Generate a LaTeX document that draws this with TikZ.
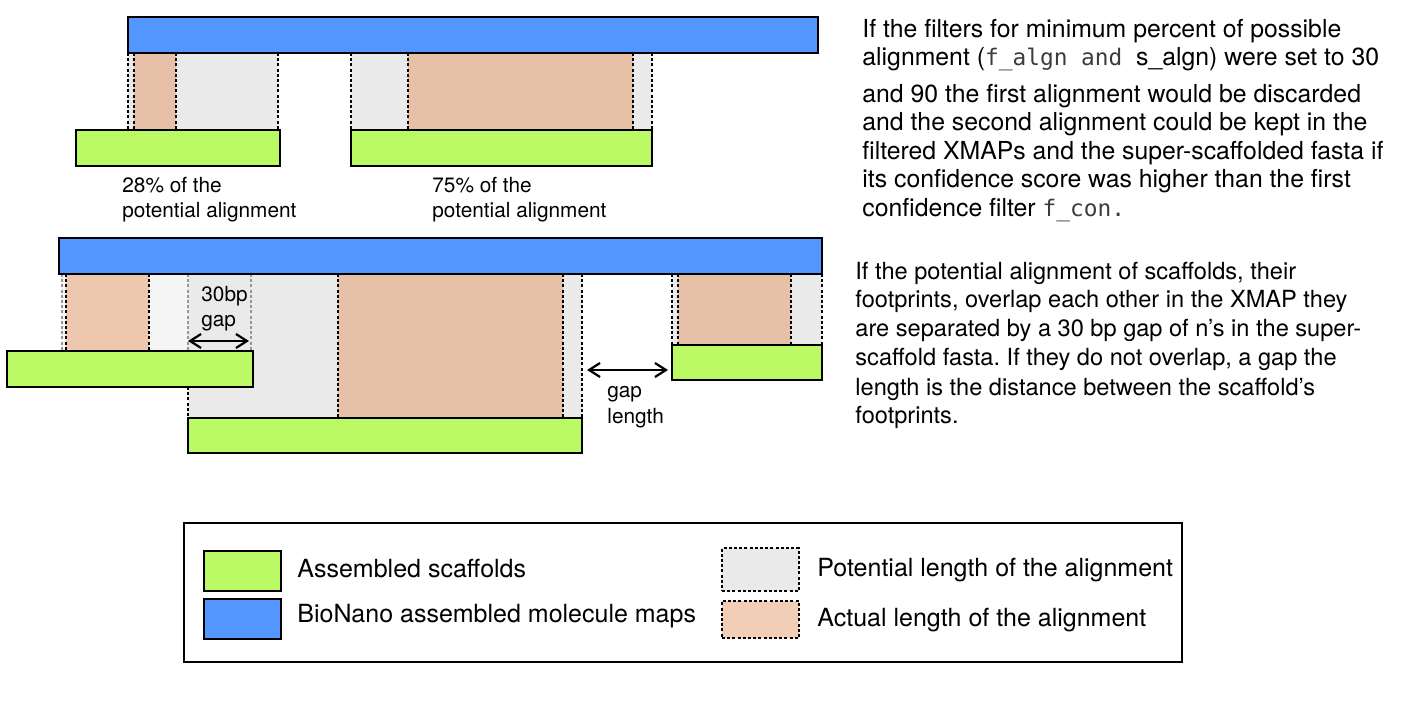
\documentclass[tikz,border=0pt]{standalone}
\usepackage{fontspec}
\setmainfont{TeX Gyre Heros}
\newfontfamily\codefont[Scale=0.92]{DejaVu Sans Mono}
\usetikzlibrary{fit,arrows.meta}
\frenchspacing
\definecolor{mapblue}{RGB}{83,150,255}
\definecolor{scafgreen}{RGB}{187,249,101}
\definecolor{potgray}{RGB}{234,234,234}
\definecolor{potlight}{RGB}{245,245,245}
\definecolor{actorange}{RGB}{230,193,167}
\definecolor{actlight}{RGB}{237,200,174}
\definecolor{legorange}{RGB}{242,206,182}
\definecolor{codegray}{RGB}{60,60,60}
\definecolor{dashgray}{RGB}{150,150,150}
\tikzset{
  bar/.style={draw=black, line width=1.2pt, inner sep=0pt, outer sep=0pt},
  mapbar/.style={bar, fill=mapblue},
  scafbar/.style={bar, fill=scafgreen},
  region/.style={draw=none, inner sep=0pt, outer sep=0pt},
  potreg/.style={region, fill=potgray},
  potlightreg/.style={region, fill=potlight},
  actreg/.style={region, fill=actorange},
  actlightreg/.style={region, fill=actlight},
  dashline/.style={line width=1pt, dash pattern=on 1.5pt off 1.1pt},
  greydash/.style={dashline, draw=dashgray},
  dimarrow/.style={line width=1.1pt, {Straight Barb[length=5.5pt,width=7pt]}-{Straight Barb[length=5.5pt,width=7pt]}},
  paraA/.style={anchor=base west, inner sep=0pt, font=\fontsize{12.4pt}{14pt}\selectfont},
  paraB/.style={anchor=base west, inner sep=0pt, font=\fontsize{11.8pt}{14pt}\selectfont},
  lab/.style={anchor=base west, inner sep=0pt, font=\fontsize{10.4pt}{12.5pt}\selectfont},
  legtext/.style={anchor=base west, inner sep=0pt, font=\fontsize{12.5pt}{15pt}\selectfont},
  swatch/.style={draw=black, line width=0.9pt, inner sep=0pt, outer sep=0pt},
  dswatch/.style={draw=black, line width=0.9pt, dash pattern=on 1.5pt off 1.1pt, inner sep=0pt, outer sep=0pt},
}
\begin{document}
\begin{tikzpicture}[x=0.5pt, y=-0.5pt]
\useasboundingbox (0,0) rectangle (1411,726);

% ---------- top diagram ----------
\node[potreg, fit={(128,53)(278,130)}] (p1) {};
\node[actreg, fit={(134,53)(176,130)}] (a1) {};
\node[potreg, fit={(351,53)(652,130)}] (p2) {};
\node[actreg, fit={(408,53)(633,130)}] (a2) {};
\draw[dashline] (p1.north west) -- (p1.south west);
\draw[dashline] (p1.north east) -- (p1.south east);
\draw[dashline] (a1.north west) -- (a1.south west);
\draw[dashline] (a1.north east) -- (a1.south east);
\draw[dashline] (p2.north west) -- (p2.south west);
\draw[dashline] (p2.north east) -- (p2.south east);
\draw[dashline] (a2.north west) -- (a2.south west);
\draw[dashline] (a2.north east) -- (a2.south east);

\node[mapbar, fit={(128,17)(818,53)}] (m1) {};
\node[scafbar, fit={(76,130)(280,166)}] (s1) {};
\node[scafbar, fit={(351,130)(652,166)}] (s2) {};

\node[lab] (l1a) at (122,193) {28\% of the};
\node[lab] (l1b) at (122,218) {potential alignment};
\node[lab] (l2a) at (432,193) {75\% of the};
\node[lab] (l2b) at (432,218) {potential alignment};

% ---------- bottom diagram ----------
\node[potlightreg, fit={(62,274)(251,351)}] (pA) {};
\node[actlightreg, fit={(66,274)(149,351)}] (aA) {};
\node[potreg, fit={(188,274)(582,418)}] (pB) {};
\node[actreg, fit={(338,274)(563,418)}] (aB) {};
\node[potreg, fit={(672,274)(822,345)}] (pC) {};
\node[actreg, fit={(678,274)(791,345)}] (aC) {};

\draw[greydash] (pA.north west) -- (pA.south west);
\draw[dashline] (aA.north west) -- (aA.south west);
\draw[dashline] (aA.north east) -- (aA.south east);
\draw[greydash] (pA.north east) -- (pA.south east);
\draw[greydash] (pB.north west) -- (pB.north west |- pA.south);
\draw[dashline] (pB.north west |- 0,387) -- (pB.south west);
\draw[dashline] (aB.north west) -- (aB.south west);
\draw[dashline] (aB.north east) -- (aB.south east);
\draw[dashline] (pB.north east) -- (pB.south east);
\draw[dashline] (pC.north west) -- (pC.south west);
\draw[dashline] (aC.north west) -- (aC.south west);
\draw[dashline] (aC.north east) -- (aC.south east);
\draw[dashline] (pC.north east) -- (pC.south east);

\node[mapbar, fit={(59,238)(822,274)}] (m2) {};
\node[scafbar, fit={(7,351)(253,387)}] (sA) {};
\node[scafbar, fit={(188,418)(582,453)}] (sB) {};
\node[scafbar, fit={(672,345)(822,380)}] (sC) {};

\coordinate (g1L) at (188,341);
\coordinate (g1R) at (249,341);
\draw[dimarrow] (g1L) -- (g1R);
\node[lab] (g1a) at (201,302) {30bp};
\node[lab] (g1b) at (201,327) {gap};

\coordinate (g2L) at (587,370);
\coordinate (g2R) at (668,370);
\draw[dimarrow] (g2L) -- (g2R);
\node[lab] (g2a) at (607,398) {gap};
\node[lab] (g2b) at (607,423) {length};

% ---------- paragraph 1 ----------
\node[paraA] (t1) at (862,38) {If the filters for minimum percent of possible};
\node[paraA] (t2) at (862,66) {alignment ({\color{codegray}\codefont f\_algn and }s\_algn) were set to 30};
\node[paraA] (t3) at (862,103) {and 90 the first alignment would be discarded};
\node[paraA] (t4) at (862,131) {and the second alignment could be kept in the};
\node[paraA] (t5) at (862,160) {filtered XMAPs and the super-scaffolded fasta if};
\node[paraA] (t6) at (862,188) {its confidence score was higher than the first};
\node[paraA] (t7) at (862,217) {confidence filter {\color{codegray}\codefont f\_con.}};

% ---------- paragraph 2 ----------
\node[paraB] (u1) at (855,280) {If the potential alignment of scaffolds, their};
\node[paraB] (u2) at (855,308) {footprints, overlap each other in the XMAP they};
\node[paraB] (u3) at (855,337) {are separated by a 30 bp gap of n’s in the super-};
\node[paraB] (u4) at (855,366) {scaffold fasta. If they do not overlap, a gap the};
\node[paraB] (u5) at (855,395) {length is the distance between the scaffold’s};
\node[paraB] (u6) at (855,423) {footprints.};

% ---------- legend ----------
\node[draw=black, line width=1pt, inner sep=0pt, fit={(184,523)(1182,662)}] (legend) {};
\node[swatch, fill=scafgreen, fit={(204,551)(281,591)}] (kg) {};
\node[swatch, fill=mapblue, fit={(204,599)(281,639)}] (kb) {};
\node[dswatch, fill=potgray, fit={(722,548)(799,591)}] (kp) {};
\node[dswatch, fill=legorange, fit={(722,601)(799,638)}] (ka) {};
\node[legtext] (kgt) at (297,577) {Assembled scaffolds};
\node[legtext] (kbt) at (297,622) {BioNano assembled molecule maps};
\node[legtext] (kpt) at (817,576) {Potential length of the alignment};
\node[legtext] (kat) at (817,626) {Actual length of the alignment};
\end{tikzpicture}
\end{document}
